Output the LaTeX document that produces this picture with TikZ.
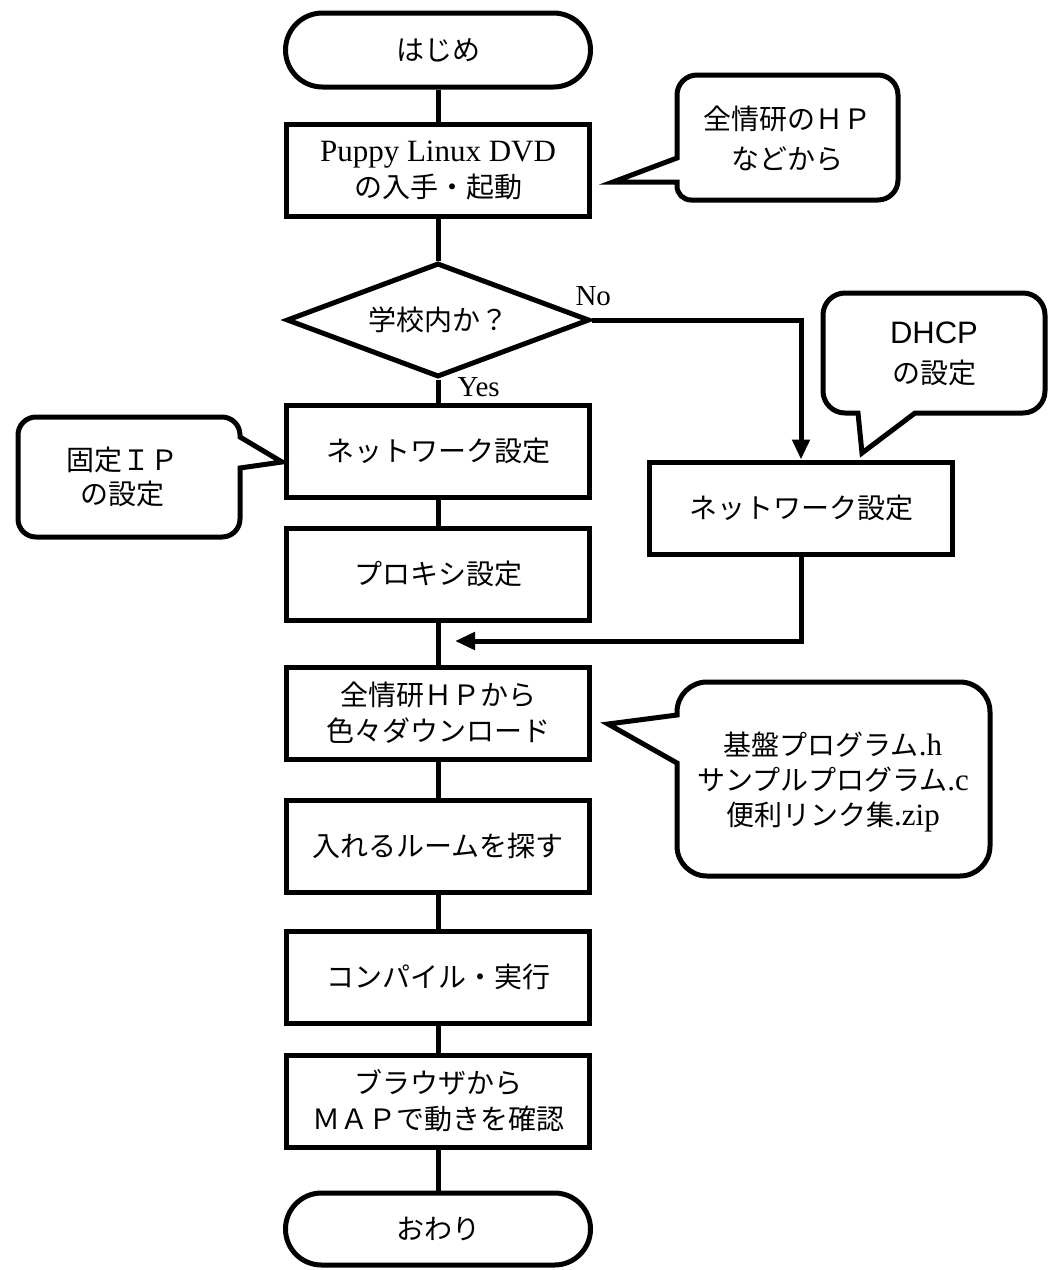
\documentclass[tikz,border=0pt]{standalone}
\usepackage{fontspec}
\setmainfont{Liberation Serif}
\newfontfamily\jp{Noto Sans CJK JP}
\newfontfamily\dhcpfont{Liberation Sans}
\newcommand\latn[1]{{\rmfamily\fontsize{31}{36}\selectfont #1}}
\usetikzlibrary{arrows.meta,shapes.geometric}
\begin{document}
\begin{tikzpicture}[x=1pt,y=-1pt,line width=5pt,
  txt/.style={font=\jp\fontsize{28}{36}\selectfont, align=center, inner sep=0pt},
  box/.style={txt, draw, line width=5pt, minimum width=303pt, minimum height=92pt},
  term/.style={txt, draw, line width=5pt, minimum width=305pt, minimum height=74pt, rounded corners=37pt},
  dia/.style={txt, draw, diamond, aspect=2.66, line width=5pt, minimum width=303pt, minimum height=114pt},
  co/.style={draw, line width=5pt, fill=white},
  lbl/.style={font=\rmfamily\fontsize{29}{32}\selectfont, inner sep=0pt},
  arr/.style={-{Triangle[length=20pt,width=17pt]}}]
\useasboundingbox (0,0) rectangle (1050,1270);
% main column
\node[term] (start) at (438,50) {はじめ};
\node[box] (a) at (438,170) {\latn{Puppy Linux DVD}\\の入手・起動};
\node[dia] (q) at (438,320) {学校内か？};
\node[box] (b) at (438,451) {ネットワーク設定};
\node[box] (c) at (438,574) {プロキシ設定};
\node[box] (d) at (438,713) {全情研ＨＰから\\色々ダウンロード};
\node[box] (e) at (438,846) {入れるルームを探す};
\node[box] (f) at (438,977) {コンパイル・実行};
\node[box] (g) at (438,1101) {ブラウザから\\ＭＡＰで動きを確認};
\node[term, minimum height=72pt, rounded corners=36pt] (end) at (438,1229) {おわり};
% right branch
\node[box] (r) at (801,508) {ネットワーク設定};
\coordinate (merge) at (455,641);
\node[lbl, anchor=base west] (no) at (573,305) {No};
\node[lbl, anchor=north west] (yes) at (455,375) {Yes};
% connectors
\draw (start) -- (a);
\draw (a) -- (q);
\draw (q.south) -- (b);
\draw (b) -- (c);
\draw (c) -- (d);
\draw (d) -- (e);
\draw (e) -- (f);
\draw (f) -- (g);
\draw (g) -- (end);
\draw[arr] (q.east) -| (r.north);
\draw[arr] (r.south) |- (merge);
% callouts
\draw[co] (787,75) [rounded corners=20pt] -- (898,75) -- (898,200) [rounded corners=14pt] -- (677,200) [sharp corners] -- (677,182) -- (613,182) -- (677,158) [rounded corners=20pt] -- (677,75) -- cycle;
\node[txt, font=\jp\fontsize{28}{40}\selectfont] (c1) at (787,139) {全情研のＨＰ\\などから};
\draw[co] (934,293) [rounded corners=22pt] -- (1045,293) -- (1045,413) [sharp corners] -- (915,413) -- (862,453) -- (858,413) [rounded corners=22pt] -- (823,413) -- (823,293) -- cycle;
\node[txt, font=\jp\fontsize{28}{40}\selectfont] (c2) at (934,354) {{\dhcpfont\fontsize{31}{40}\selectfont DHCP}\\の設定};
\draw[co] (129,417) [rounded corners=18pt] -- (240,417) [sharp corners] -- (240,437) -- (282,462) -- (240,468) [rounded corners=18pt] -- (240,537) -- (18,537) -- (18,417) -- cycle;
\node[txt, font=\jp\fontsize{28}{34}\selectfont] (c3) at (122,477) {固定ＩＰ\\の設定};
\draw[co] (833,682) [rounded corners=30pt] -- (990,682) -- (990,876) -- (677,876) [sharp corners] -- (677,763) -- (608,724) -- (677,715) [rounded corners=30pt] -- (677,682) -- cycle;
\node[txt, font=\jp\fontsize{28}{35}\selectfont] (c4) at (833,782) {基盤プログラム\latn{.h}\\サンプルプログラム\latn{.c}\\便利リンク集\latn{.zip}};
\end{tikzpicture}
\end{document}
